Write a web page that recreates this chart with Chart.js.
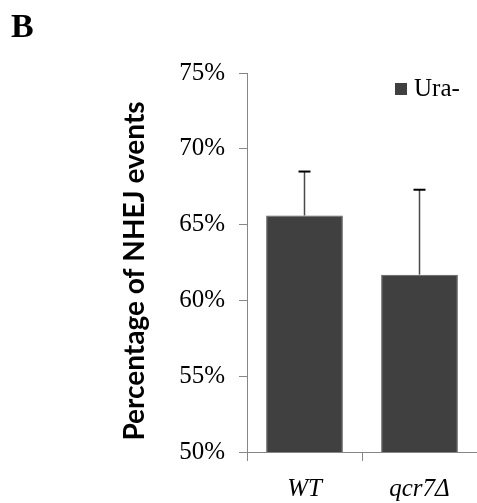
<!DOCTYPE html>
<html>
<head>
<script src="https://cdn.jsdelivr.net/npm/chart.js@4.4.0/dist/chart.umd.min.js"></script>
<style>
  body { margin: 0; background: #fff; }
  canvas { display: block; }
</style>
</head>
<body>
<canvas id="nhejChart" width="477" height="503"></canvas>
<script>
// values
const strains = ['WT', 'qcr7Δ'];
const nhejPercent = [65.6, 61.7];
const errorUp = [2.9, 5.6];
const yTicks = [50, 55, 60, 65, 70, 75];
const seriesName = 'Ura-';
const panelLetter = 'B';
const yTitle = 'Percentage of NHEJ events';

const barColor = '#404040';
const axisColor = '#868686';
const serif = '"Liberation Serif", "Times New Roman", serif';

// only the upper half of the error bar, like the original
const errorBars = {
  id: 'errorBars',
  afterDatasetsDraw(chart) {
    const { ctx, scales: { y } } = chart;
    const meta = chart.getDatasetMeta(0);
    meta.data.forEach((bar, i) => {
      const top = y.getPixelForValue(nhejPercent[i] + errorUp[i]);
      ctx.save();
      ctx.strokeStyle = '#4a4a4a';
      ctx.lineWidth = 1.5;
      ctx.beginPath();
      ctx.moveTo(bar.x, bar.y);
      ctx.lineTo(bar.x, top);
      ctx.stroke();
      ctx.strokeStyle = '#000';
      ctx.lineWidth = 2;
      ctx.beginPath();
      ctx.moveTo(bar.x - 6, top);
      ctx.lineTo(bar.x + 6, top);
      ctx.stroke();
      ctx.restore();
    });
  }
};

// legend, panel letter and axis title
const extras = {
  id: 'extras',
  afterDraw(chart) {
    const { ctx, chartArea } = chart;
    ctx.save();

    ctx.fillStyle = barColor;
    ctx.fillRect(chartArea.right - 82, chartArea.top + 10, 12, 12);
    ctx.fillStyle = '#000';
    ctx.font = '25px ' + serif;
    ctx.textBaseline = 'alphabetic';
    ctx.textAlign = 'left';
    ctx.fillText(seriesName, chartArea.right - 63, chartArea.top + 23);

    ctx.font = 'bold 34px ' + serif;
    ctx.fillText(panelLetter, 11, 37);

    ctx.translate(135, 271);
    ctx.rotate(-Math.PI / 2);
    ctx.font = 'bold 28px Lato, "Liberation Sans", sans-serif';
    ctx.textAlign = 'center';
    ctx.textBaseline = 'middle';
    ctx.fillText(yTitle, 0, 0);
    ctx.restore();
  }
};

new Chart(document.getElementById('nhejChart'), {
  type: 'bar',
  data: {
    labels: strains,
    datasets: [{
      label: seriesName,
      data: nhejPercent,
      backgroundColor: barColor,
      borderColor: '#5c5c5c',
      borderWidth: 1,
      barPercentage: 0.667,
      categoryPercentage: 1.0
    }]
  },
  options: {
    responsive: false,
    animation: false,
    layout: { padding: { top: 73, left: 0, right: 0, bottom: 0 } },
    plugins: {
      legend: { display: false },
      tooltip: { enabled: false }
    },
    scales: {
      x: {
        afterFit: scale => { scale.height = 51; },
        grid: {
          offset: true,
          drawOnChartArea: false,
          tickLength: 9,
          color: axisColor
        },
        border: { color: axisColor, width: 1 },
        ticks: {
          color: '#000',
          padding: 13,
          font: { family: serif, size: 25, style: 'italic' }
        }
      },
      y: {
        min: 50,
        max: 75,
        afterFit: scale => { scale.width = 247; },
        afterBuildTicks: scale => { scale.ticks = yTicks.map(v => ({ value: v })); },
        grid: {
          drawOnChartArea: false,
          tickLength: 8,
          color: axisColor
        },
        border: { color: axisColor, width: 1 },
        ticks: {
          color: '#000',
          padding: 14,
          font: { family: serif, size: 25 },
          callback: v => v + '%'
        }
      }
    }
  },
  plugins: [errorBars, extras]
});
</script>
</body>
</html>
